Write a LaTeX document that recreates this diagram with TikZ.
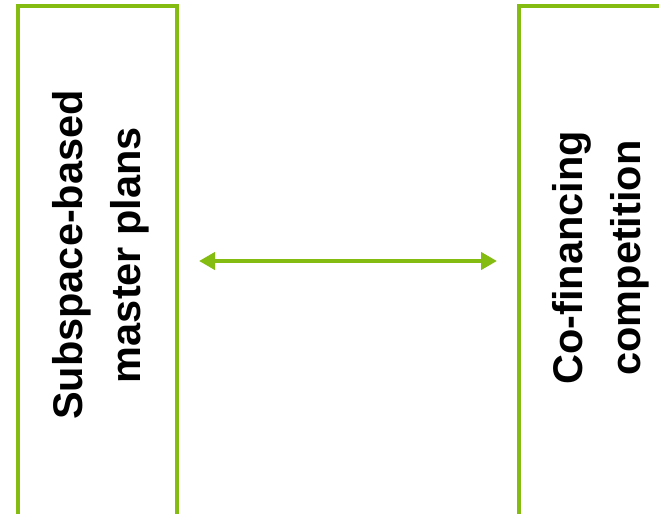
\documentclass[tikz,border=0pt]{standalone}
\usepackage{fontspec}
\setmainfont{Liberation Sans}
\usetikzlibrary{arrows.meta}
\definecolor{leafgreen}{RGB}{132,188,18}
\tikzset{
	panel/.style={draw=leafgreen, line width=4pt, inner sep=0pt, minimum height=510pt},
	paneltext/.style={rotate=90, align=center, inner sep=0pt, font=\bfseries\fontsize{41.5}{58}\selectfont},
}
\begin{document}
\begin{tikzpicture}[x=1pt, y=-1pt, >={Triangle[length=16pt,width=17pt]}, line join=miter]
	\useasboundingbox (0,0) rectangle (659,514);
	% Hai khung
	\node[panel, minimum width=159pt] (plans) at (97.5,261) {};
	\node[panel, minimum width=200pt] (compet) at (619,261) {};
	% Chữ dọc
	\node[paneltext] (plansText) at (101,255) {Subspace-based\\master plans};
	\node[paneltext] (competText) at (601,258) {Co-financing\\competition};
	\draw[<->, draw=leafgreen, line width=4pt, shorten <=20pt, shorten >=20pt] (plans.east) -- (compet.west);
\end{tikzpicture}
\end{document}
